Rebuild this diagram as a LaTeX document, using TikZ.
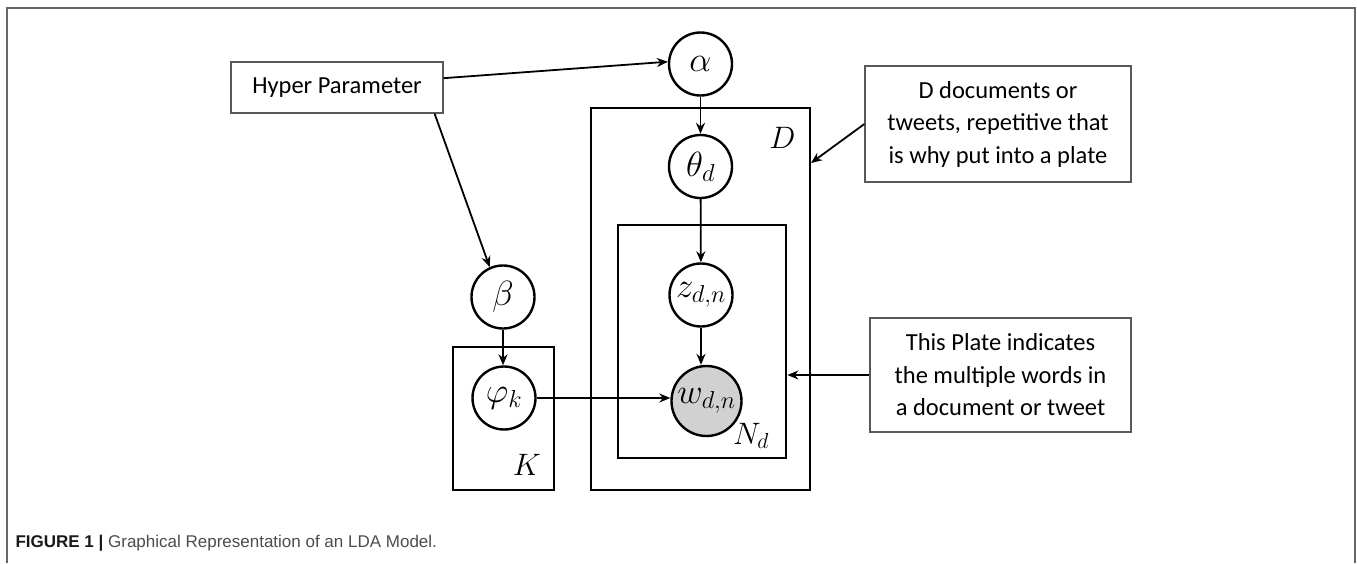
\RequirePackage{fix-cm}
\documentclass[tikz,border=0pt]{standalone}
\usepackage{fontspec}
\setmainfont{Carlito}
\newfontfamily\capfont{Liberation Sans}
\usetikzlibrary{arrows.meta}

\tikzset{
	var/.style={circle, draw, line width=2.4pt, inner sep=0pt, minimum size=63pt, font=\fontsize{35}{40}\selectfont},
	plate/.style={draw, line width=2.8pt, inner sep=0pt},
	note/.style={draw=black!65, line width=1.3pt, align=center, inner sep=0pt, font=\fontsize{24.5}{32.5}\selectfont},
	arr/.style={-{Stealth[length=11pt,width=9pt]}, line width=1.8pt},
}

\begin{document}
\begin{tikzpicture}[x=1pt,y=-1pt]
	\useasboundingbox (0,0) rectangle (1357,563);
	\draw [black!60, line width=1.8pt] (7,563) -- (7,8) -- (1355,8) -- (1355,563);

	% plates
	\node [plate, minimum width=219pt, minimum height=382pt] (dplate) at (700.5,299) {};
	\node [plate, minimum width=168pt, minimum height=233pt] (nplate) at (702,341.5) {};
	\node [plate, minimum width=101pt, minimum height=143pt] (kplate) at (503.5,418.5) {};
	\node [font=\fontsize{31}{36}\selectfont] (dlabel) at (782.5,138) {$D$};
	\node [font=\fontsize{31}{36}\selectfont] (klabel) at (527,465) {$K$};
	\node [font=\fontsize{31}{36}\selectfont] (nlabel) at (751,436) {$N_d$};

	% variables
	\node [var] (alpha) at (700.5,64) {$\alpha$};
	\node [var] (theta) at (700.5,166.5) {$\theta_d$};
	\node [var] (z) at (701,295) {$z_{d,n}$};
	\node [var, fill=black!18, minimum size=70pt] (w) at (706.5,401) {$w_{d,n}$};
	\node [var] (beta) at (503,297) {$\beta$};
	\node [var] (phi) at (504,398) {$\varphi_k$};

	% notes
	\node [note, minimum width=212pt, minimum height=51pt] (hyper) at (337,87.5) {Hyper Parameter};
	\node [note, minimum width=266pt, minimum height=116pt] (docbox) at (998,124) {D documents or\\tweets, repetitive that\\is why put into a plate};
	\node [note, minimum width=261pt, minimum height=114pt] (platebox) at (1000.5,375) {This Plate indicates\\the multiple words in\\a document or tweet};
	\coordinate (din) at (811,163);

	\draw [arr] (hyper.5) -- (alpha.176);
	\draw [arr] (hyper.-15) -- (beta.114);
	\draw [arr] (alpha) -- (theta);
	\draw [arr] (theta) -- (z);
	\draw [arr] (z.south) -- (z.south |- w.north);
	\draw [arr] (beta.south) -- (beta.south |- phi.north);
	\draw [arr] (phi.east) -- (phi.east -| w.west);
	\draw [arr] (docbox.west) -- (din);
	\draw [arr] (platebox.west) -- (platebox.west -| nplate.east);

	\node [anchor=west, font=\capfont\fontsize{17}{20}\selectfont, text=black!70] (caption) at (12,543) {{\color{black!90}\bfseries FIGURE 1 |} Graphical Representation of an LDA Model.};
\end{tikzpicture}
\end{document}
